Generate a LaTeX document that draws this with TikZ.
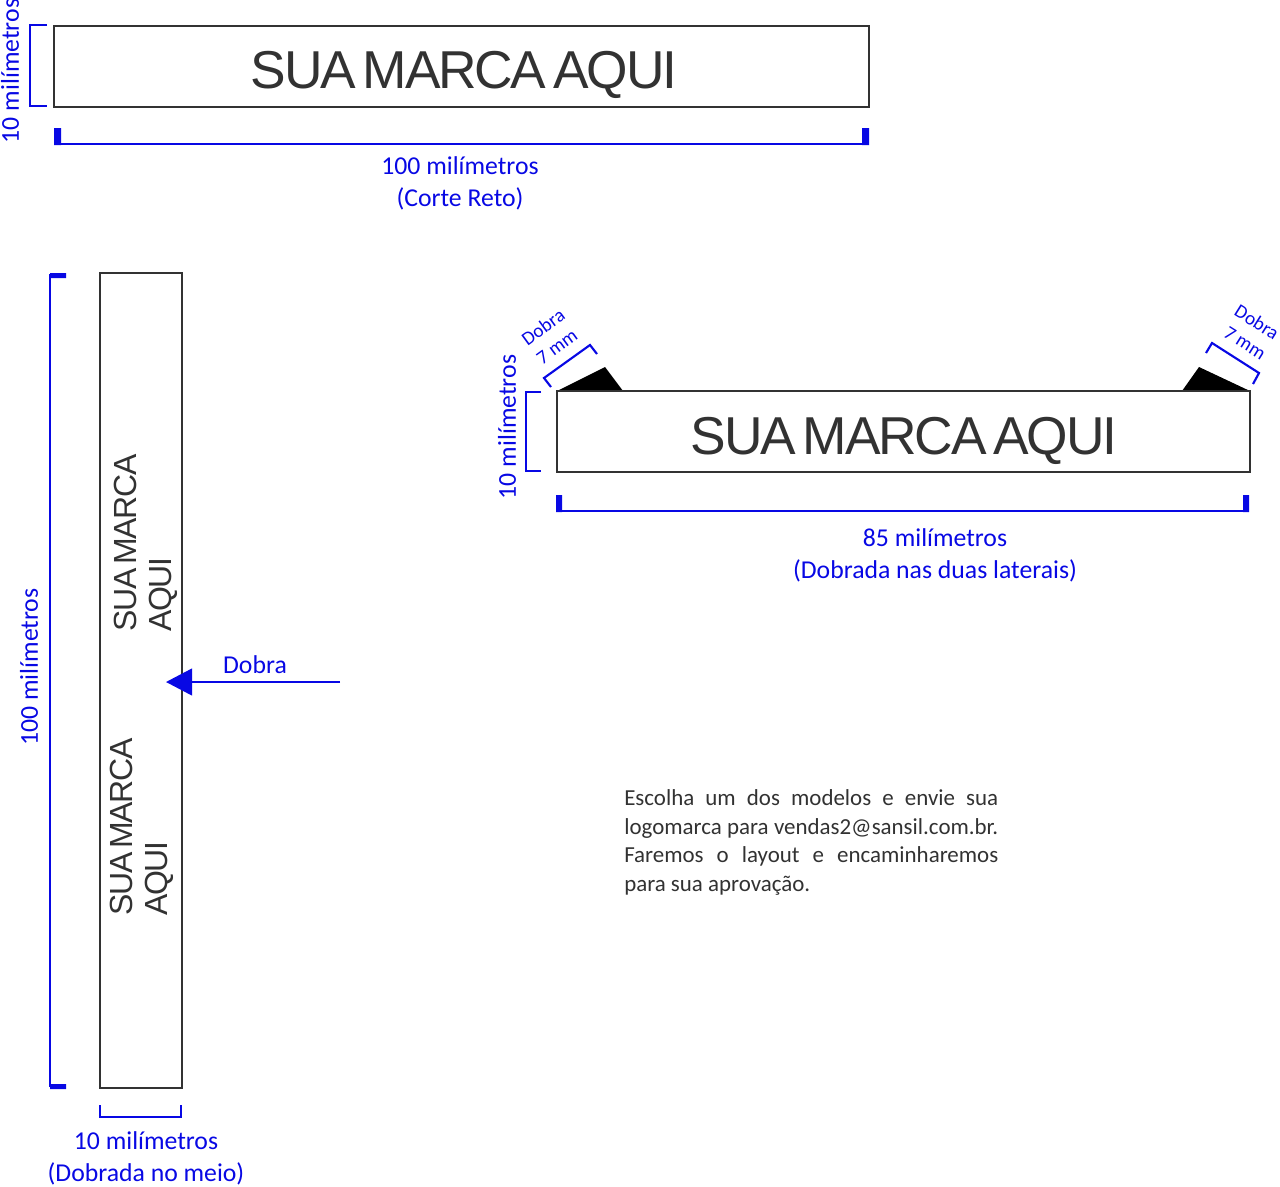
\documentclass[tikz,border=0pt]{standalone}
\usepackage{fontspec}
\setmainfont{Carlito}
\newfontfamily\marcafont[LetterSpace=-4.2,WordSpace=0.55]{Liberation Sans}
\usetikzlibrary{positioning,arrows.meta}
\definecolor{cotablue}{RGB}{8,8,228}
\definecolor{marcagray}{RGB}{50,50,50}
\tikzset{
	band/.style = {draw=marcagray, line width=0.9pt},
	fold/.style = {fill=black, draw=none},
	cota/.style = {draw=cotablue, line width=1.6pt},
	cotathick/.style = {fill=cotablue, draw=none},
	cotatext/.style = {text=cotablue, font=\fontsize{19.3}{24}\selectfont, align=center, inner sep=0pt},
	dobratext/.style = {text=cotablue, font=\fontsize{14.5}{16}\selectfont, inner sep=0pt},
	marca/.style = {text=marcagray, font=\marcafont\fontsize{40}{48}\selectfont, inner sep=0pt},
	marcavert/.style = {text=marcagray, font=\marcafont\fontsize{24}{26.3}\selectfont, align=left, rotate=90, inner sep=0pt}
}

\begin{document}
\begin{tikzpicture}[x=0.75pt, y=-0.75pt]
		\useasboundingbox (0, 0) rectangle (1280, 1186);
		% corte reto
		\draw[band] (54, 26) rectangle (869, 107);
		\node[marca] (marcaTop) at (464, 75) {SUA MARCA AQUI};
		\draw[cota] (47, 25) -- (30, 25) -- (30, 106) -- (47, 106);
		\node[cotatext, rotate=90] (alturaTop) at (10, 71) {10 milímetros};
		\draw[cota, line width=2.1pt] (54, 144) -- (869, 144);
		\fill[cotathick] (54, 128) rectangle (61, 145)
			(862, 128) rectangle (869, 145);
		\node[cotatext] (larguraTop) at (460, 183) {100 milímetros\\(Corte Reto)};
		% dobrada no meio
		\draw[band] (100, 273) rectangle (182, 1088);
		\node[marcavert, anchor=north west] (marcaUp) at (114, 632) {SUA MARCA\\AQUI};
		\node[marcavert, anchor=north west] (marcaDown) at (110, 916) {SUA MARCA\\AQUI};
		\draw[cota, line width=2.1pt] (66, 275) -- (50, 275) -- (50, 1086) -- (66, 1086);
		\fill[cotathick] (50, 273) rectangle (66, 278)
			(50, 1084) rectangle (66, 1089);
		\node[cotatext, rotate=90] (alturaMeio) at (29, 667) {100 milímetros};
		\draw[cota] (100, 1105) -- (100, 1117) -- (181, 1117) -- (181, 1105);
		\node[cotatext] (larguraMeio) at (146, 1158) {10 milímetros\\(Dobrada no meio)};
		\coordinate (dobraStart) at (340, 682);
		\coordinate (dobraEnd) at (166, 682);
		\draw[cota, -{Triangle[length=19.5pt, width=20pt]}] (dobraStart) -- (dobraEnd);
		\node[cotatext] (dobraLabel) at (255, 665) {Dobra};
		% dobrada nas laterais
		\fill[fold] (557, 391) -- (605, 367) -- (623, 391) -- cycle;
		\fill[fold] (1250, 391) -- (1199, 367) -- (1182, 391) -- cycle;
		\draw[band] (557, 391) rectangle (1250, 472);
		\node[marca] (marcaSide) at (904, 441) {SUA MARCA AQUI};
		\draw[cota] (541, 392) -- (526, 392) -- (526, 471) -- (541, 471);
		\node[cotatext, rotate=90] (alturaSide) at (507, 427) {10 milímetros};
		\draw[cota] (551, 387) -- (544, 378) -- (590, 345) -- (597, 354);
		\draw[cota] (1206, 353) -- (1212, 343) -- (1259, 373) -- (1253, 384);
		\node[dobratext, rotate=36] (dobraLeft) at (543, 327) {Dobra};
		\node[dobratext, rotate=36] (mmLeft) at (557, 347) {7 mm};
		\node[dobratext, rotate=-32] (dobraRight) at (1257, 322) {Dobra};
		\node[dobratext, rotate=-32] (mmRight) at (1245, 343) {7 mm};
		\draw[cota, line width=2.1pt] (556, 511) -- (1249, 511);
		\fill[cotathick] (556, 495) rectangle (562, 512)
			(1243, 495) rectangle (1249, 512);
		\node[cotatext] (larguraSide) at (935, 555) {85 milímetros\\(Dobrada nas duas laterais)};
		% aviso
		\node[anchor=north west, text width=280.5pt, inner sep=0pt, align=justify, text=marcagray,
			font=\fontsize{17.2}{21.6}\selectfont] (aviso) at (624, 789)
			{Escolha um dos modelos e envie sua\linebreak
			logomarca para vendas2@sansil.com.br.\linebreak
			Faremos o layout e encaminharemos\linebreak
			para sua aprovação.};
	\end{tikzpicture}
\end{document}
